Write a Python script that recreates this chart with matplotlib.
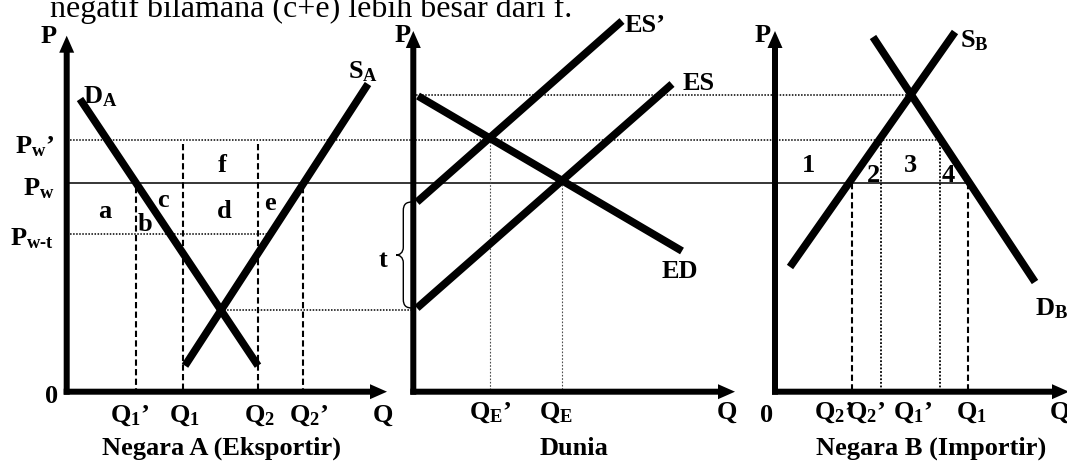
import numpy as np
import matplotlib.pyplot as plt
from matplotlib.path import Path
from matplotlib.patches import PathPatch

plt.rcParams['font.family'] = ['Liberation Serif', 'DejaVu Serif']
plt.rcParams['mathtext.fontset'] = 'custom'
plt.rcParams['mathtext.rm'] = 'Liberation Serif:bold'
plt.rcParams['mathtext.it'] = 'Liberation Serif:bold'
plt.rcParams['mathtext.bf'] = 'Liberation Serif:bold'

# price levels shared by the three panels
P_W1 = 252.0     # Pw'
P_W = 208.5      # Pw
P_WT = 158.0     # Pw-t
P_TOP = 356.0    # top of P axis (panel A)

# Negara A (Eksportir)
DA_Q = [13.3, 191.3]
DA_P = [292.7, 26.0]
SA_Q = [118.3, 301.3]
SA_P = [26.0, 307.7]
QA = [69.0, 116.6, 191.0, 236.6]          # Q1', Q1, Q2, Q2'
QA_LABELS = ["$Q_1$’", "$Q_1$", "$Q_2$", "$Q_2$’"]

# Dunia
ED_Q = [4.7, 268.7]
ED_P = [295.7, 140.7]
ES_Q = [3.7, 258.7]
ES_P = [83.7, 307.7]
ES2_Q = [3.7, 208.7]
ES2_P = [189.7, 370.7]
QW_LABELS = ["$Q_E$’", "$Q_E$"]

# Negara B (Importir)
SB_Q = [15.0, 180.0]
SB_P = [124.7, 359.7]
DB_Q = [98.0, 260.0]
DB_P = [354.7, 109.7]
QB = [77.0, 106.0, 165.0, 193.0]          # Q2', Q2', Q1', Q1
QB_LABELS = ["$Q_2$’", "$Q_2$’", "$Q_1$’", "$Q_1$"]

# panel origins
OA, OB, OC = 66.7, 413.3, 775.0


def cross(q1, p1, q2, p2):
    a1 = (p1[1] - p1[0]) / (q1[1] - q1[0])
    a2 = (p2[1] - p2[0]) / (q2[1] - q2[0])
    b1 = p1[0] - a1 * q1[0]
    b2 = p2[0] - a2 * q2[0]
    q = (b2 - b1) / (a1 - a2)
    return q, a1 * q + b1


def axis_arrows(ax, x0, ytip, xtip):
    ax.arrow(x0, -3, 0, ytip + 3, width=6, head_width=15, head_length=17,
             length_includes_head=True, fc='k', ec='k', lw=0, zorder=4)
    ax.arrow(x0 - 3, 0, xtip - x0 + 3, 0, width=6, head_width=15, head_length=17,
             length_includes_head=True, fc='k', ec='k', lw=0, zorder=4)


fig = plt.figure(figsize=(10.67, 4.64), dpi=100)
ax = fig.add_axes([0, 0, 1, 1])
ax.set_xlim(0, 1067)
ax.set_ylim(-71.3, 392.7)
ax.axis('off')

thick = dict(color='k', lw=5.5, solid_capstyle='butt', zorder=5)
dotted = dict(color='k', lw=1.1, ls=(0, (1, 1)), zorder=2)
dashed = dict(color='k', lw=1.5, ls=(0, (3, 1.6)), zorder=2)
fine = dict(color='0.3', lw=0.8, ls=(0, (1.5, 1.5)), zorder=2)

# axes
axis_arrows(ax, OA, P_TOP, OA + 320.3)
axis_arrows(ax, OB, 360.7, OB + 321.7)
axis_arrows(ax, OC, 360.7, OC + 294)

# horizontal price lines
qa_eq, pa_eq = cross(DA_Q, DA_P, SA_Q, SA_P)
qb_eq, pb_eq = cross(SB_Q, SB_P, DB_Q, DB_P)
ax.plot([OA, OC + QB[2]], [P_W1, P_W1], **dotted)
ax.plot([OA, OC + QB[3]], [P_W, P_W], color='k', lw=1.1, zorder=2)
ax.plot([OA, OA + np.interp(P_WT, SA_P, SA_Q) - 3], [P_WT, P_WT], **dotted)
ax.plot([OA + qa_eq, OB], [pa_eq, pa_eq], **dotted)
ax.plot([OB, OC + qb_eq], [pb_eq, pb_eq], **dotted)

# verticals panel A
for q, top in zip(QA, [P_W, P_W1, P_W1, P_W]):
    ax.plot([OA + q, OA + q], [top - 4, 0], **dashed)

# verticals Dunia
qe1, pe1 = cross(ED_Q, ED_P, ES2_Q, ES2_P)
qe, pe = cross(ED_Q, ED_P, ES_Q, ES_P)
ax.plot([OB + qe1, OB + qe1], [pe1, 0], **fine)
ax.plot([OB + qe, OB + qe], [pe, 0], **fine)

# verticals panel B
ax.plot([OC + QB[0]] * 2, [P_W, 0], **dashed)
ax.plot([OC + QB[3]] * 2, [P_W, 0], **dashed)
ax.plot([OC + QB[1]] * 2, [P_W1, 0], color='k', lw=1.3, ls=(0, (1, 1)), zorder=2)
ax.plot([OC + QB[2]] * 2, [P_W1, 0], color='k', lw=1.3, ls=(0, (1, 1)), zorder=2)

# curves
ax.plot(OA + np.array(DA_Q), DA_P, **thick)
ax.plot(OA + np.array(SA_Q), SA_P, **thick)
ax.plot(OB + np.array(ED_Q), ED_P, **thick)
ax.plot(OB + np.array(ES_Q), ES_P, **thick)
ax.plot(OB + np.array(ES2_Q), ES2_P, **thick)
ax.plot(OC + np.array(SB_Q), SB_P, **thick)
ax.plot(OC + np.array(DB_Q), DB_P, **thick)

# brace for tariff t
yt, yb = ES2_P[0], ES_P[0]
ym = (yt + yb) / 2
xr, xm, xt = OB - 1, OB - 10, OB - 17
verts = [(xr, yt), (xm + 3, yt), (xm, yt - 2), (xm, yt - 9),
         (xm, ym + 8),
         (xm, ym + 2), (xt + 3, ym), (xt, ym),
         (xt + 3, ym), (xm, ym - 2), (xm, ym - 8),
         (xm, yb + 9),
         (xm, yb + 2), (xm + 3, yb), (xr, yb)]
codes = [Path.MOVETO, Path.CURVE4, Path.CURVE4, Path.CURVE4, Path.LINETO,
         Path.CURVE4, Path.CURVE4, Path.CURVE4, Path.CURVE4, Path.CURVE4, Path.CURVE4,
         Path.LINETO, Path.CURVE4, Path.CURVE4, Path.CURVE4]
ax.add_patch(PathPatch(Path(verts, codes), fc='none', ec='k', lw=1.0, zorder=3))

lab = dict(fontsize=19, fontweight='bold', va='baseline', zorder=6)

# text panel A
ax.text(49, 349.7, "P", ha='center', **lab)
ax.text(83, 289.7, "$D_A$", ha='left', **lab)
ax.text(348, 314.7, "$S_A$", ha='left', **lab)
ax.text(54, 239.7, "$P_w$’", ha='right', **lab)
ax.text(54, 197.7, "$P_w$", ha='right', **lab)
ax.text(54, 147.7, r"$P_{w\text{-}t}$", ha='right', **lab)
for s, x, y in zip(["f", "a", "b", "c", "d", "e"],
                   [222, 105, 145, 163, 224, 270],
                   [220.7, 174.7, 161.7, 185.7, 174.7, 182.7]):
    ax.text(x, y, s, ha='center', **lab)
ax.text(52, -10.3, "0", ha='center', **lab)
for s, x in zip(QA_LABELS, [130, 184, 259, 309]):
    ax.text(x, -29.3, s, ha='center', **lab)
ax.text(383, -29.3, "Q", ha='center', **lab)
ax.text(222, -62.3, "Negara A (Eksportir)", ha='center', **lab)

# text Dunia
ax.text(403, 350.7, "P", ha='center', **lab)
ax.text(625, 360.7, "ES’", ha='left', **lab)
ax.text(683, 302.7, "ES", ha='left', **lab)
ax.text(383, 125.7, "t", ha='center', **lab)
ax.text(662, 114.7, "ED", ha='left', **lab)
for s, x in zip(QW_LABELS, [490, 556]):
    ax.text(x, -26.3, s, ha='center', **lab)
ax.text(727, -26.3, "Q", ha='center', **lab)
ax.text(574, -62.3, "Dunia", ha='center', **lab)

# text panel B
ax.text(763, 350.7, "P", ha='center', **lab)
ax.text(960, 345.7, "$S_B$", ha='left', **lab)
for s, x, y in zip(["1", "2", "3", "4"], [809, 873, 910, 948],
                   [220.7, 210.7, 220.7, 210.7]):
    ax.text(x, y, s, ha='center', **lab)
ax.text(1035, 77.7, "$D_B$", ha='left', **lab)
ax.text(767, -29.3, "0", ha='center', **lab)
for s, x in zip(QB_LABELS, [834, 866, 913, 971]):
    ax.text(x, -26.3, s, ha='center', **lab)
ax.text(1060, -26.3, "Q", ha='center', **lab)
ax.text(931, -62.3, "Negara B (Importir)", ha='center', **lab)

# cut-off sentence at the top
ax.text(50, 375.7, "negatif bilamana (c+e) lebih besar dari f.", fontsize=23,
        ha='left', va='baseline')

fig.savefig("out.png", dpi=100)
